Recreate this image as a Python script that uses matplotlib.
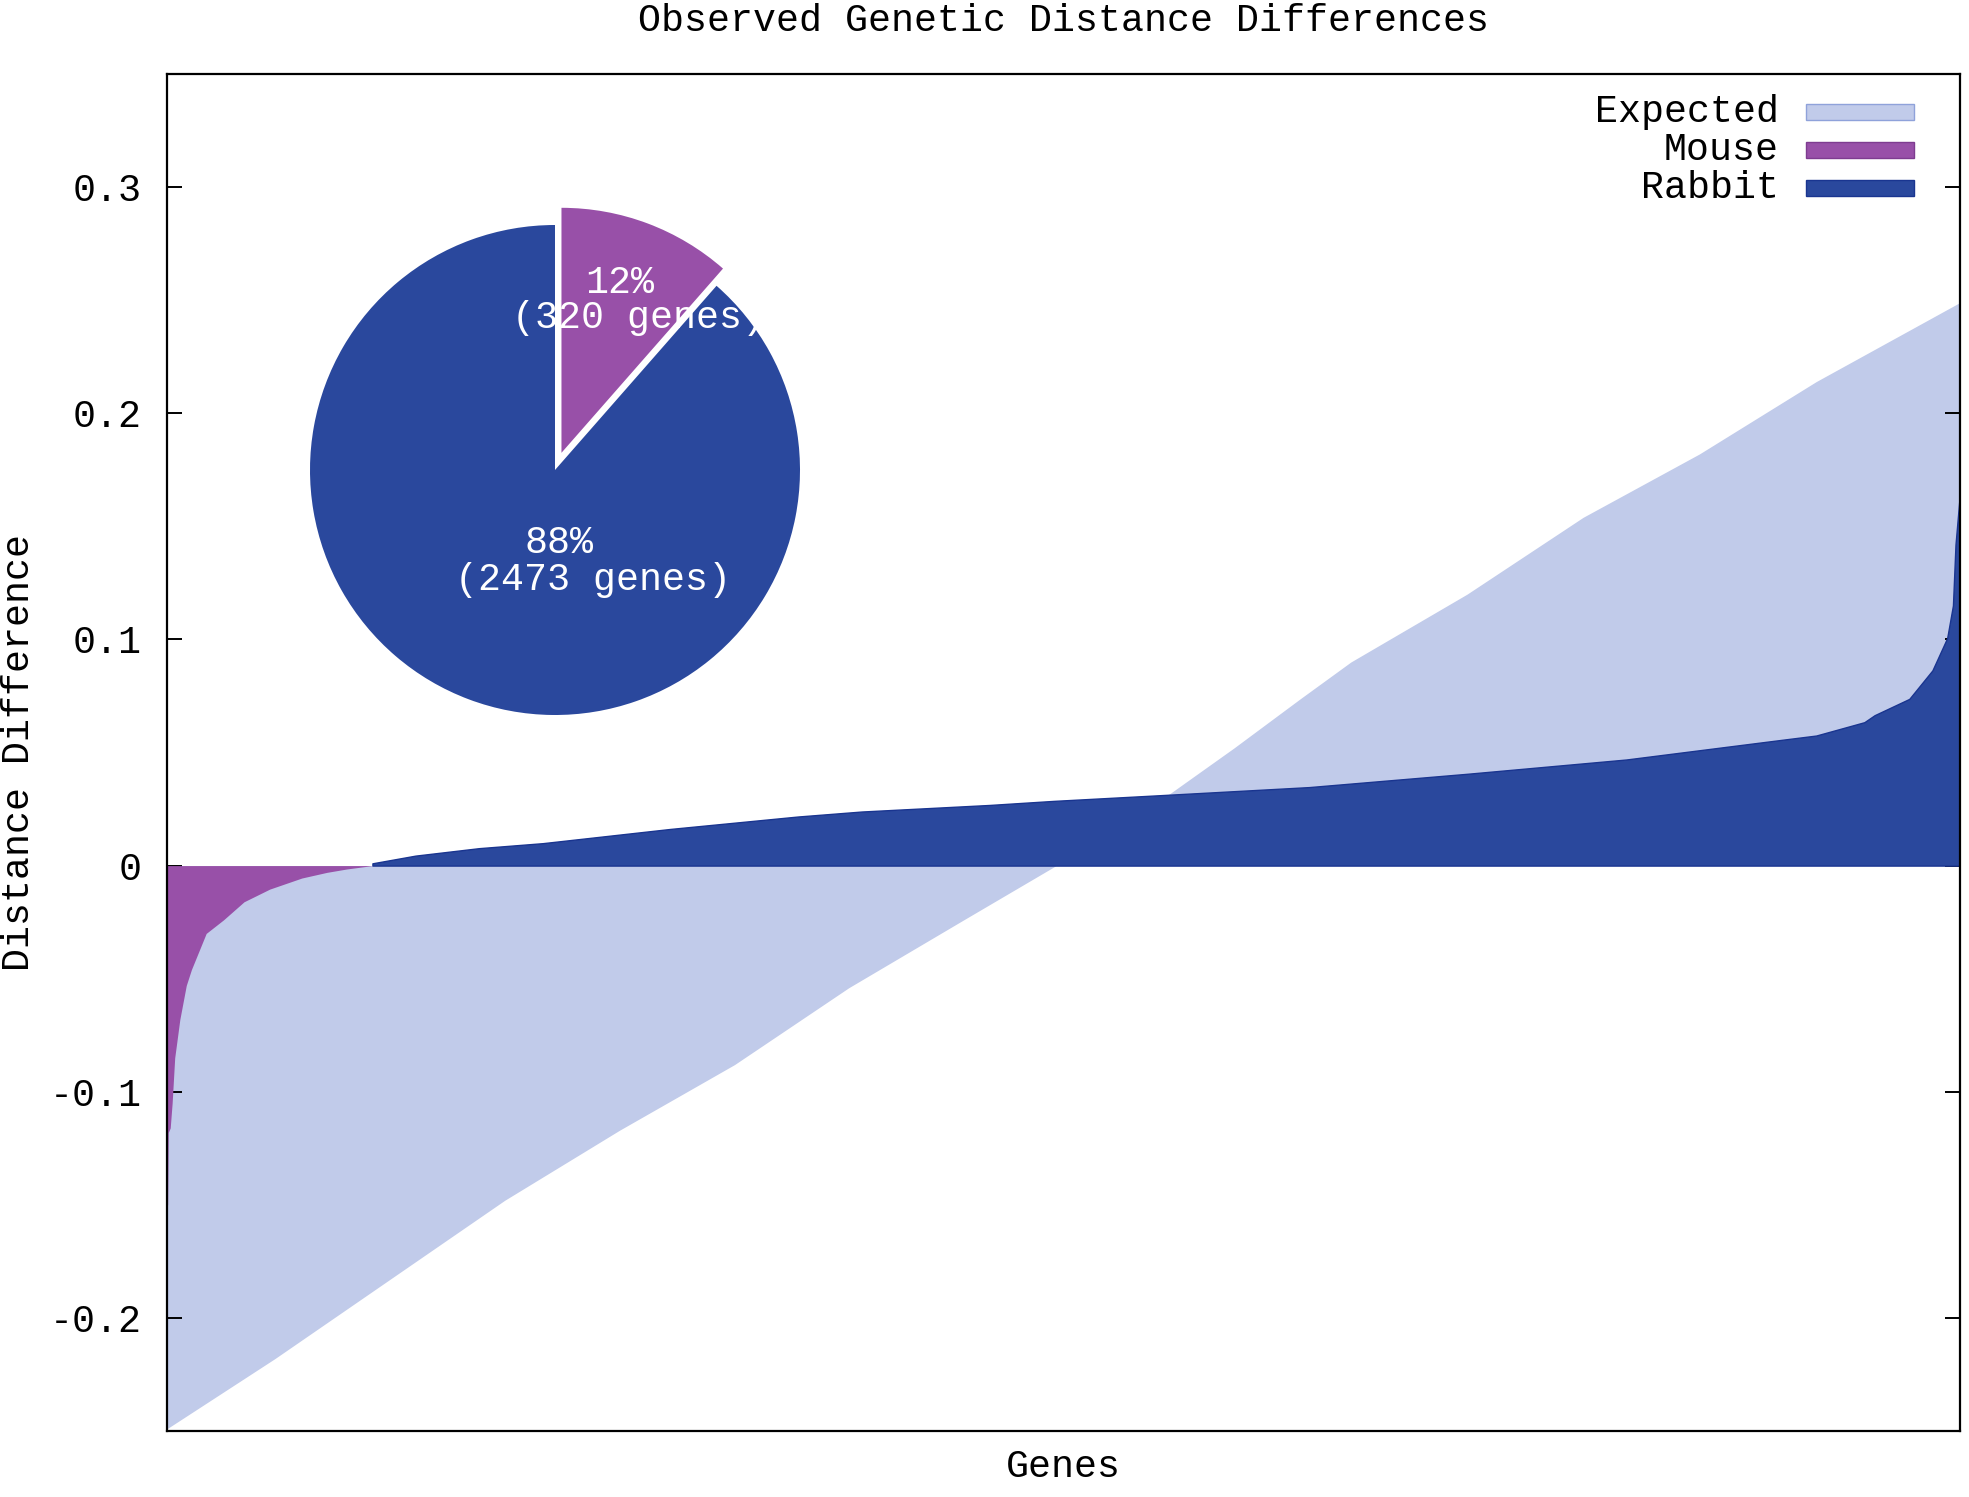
import matplotlib
matplotlib.use("Agg")
import matplotlib.pyplot as plt
from matplotlib.patches import Rectangle

# ---------------- data ----------------
n_genes = 2793

exp_gene = [0, 168, 347, 526, 705, 884, 1062, 1241, 1385, 1563, 1662, 1765, 1844, 2025, 2206, 2387, 2569, 2793]
exp_val = [-0.249, -0.218, -0.183, -0.148, -0.117, -0.088, -0.054, -0.024, 0.0, 0.032,
           0.052, 0.0737, 0.090, 0.120, 0.154, 0.182, 0.214, 0.249]

mouse_gene = [0, 1, 2, 5, 8, 12, 20, 30, 38, 61, 88, 120, 160, 210, 249, 280, 320]
mouse_val = [-0.15, -0.15, -0.118, -0.116, -0.105, -0.085, -0.068, -0.053, -0.046, -0.030,
             -0.024, -0.016, -0.0104, -0.0055, -0.003, -0.0015, 0.0]

rabbit_gene = [320, 387, 486, 585, 784, 983, 1082, 1281, 1381, 1539, 1779, 2026, 2273, 2521,
               2569, 2644, 2660, 2714, 2750, 2773, 2782, 2786, 2793]
rabbit_val = [0.001, 0.0044, 0.0077, 0.0099, 0.0162, 0.0217, 0.0239, 0.0268, 0.0286, 0.031,
              0.0347, 0.0406, 0.0469, 0.0558, 0.0575, 0.0634, 0.0665, 0.0737, 0.0863, 0.1006,
              0.115, 0.142, 0.165]

ytick_vals = [-0.2, -0.1, 0.0, 0.1, 0.2, 0.3]
ytick_labels = ["-0.2", "-0.1", "0", "0.1", "0.2", "0.3"]

series_names = ["Expected", "Mouse", "Rabbit"]
series_colors = ["#C1CBEA", "#9850A8", "#2A489D"]
series_edges = ["#8FA2DA", "#7E3C90", "#1A3590"]

pie_names = ["Mouse", "Rabbit"]
pie_counts = [320, 2473]
pie_pct = [12, 88]

title = "Observed Genetic Distance Differences"
xlabel = "Genes"
ylabel = "Distance Difference"

# ---------------- figure ----------------
FONT = "Liberation Mono"
FS = 27.5
FW = "normal"
W, H = 1969, 1497
fig = plt.figure(figsize=(W / 100, H / 100), dpi=100)
plt.rcParams["font.family"] = [FONT, "DejaVu Sans Mono"]

L, R, T, B = 167, 1960, 74, 1431
ax = fig.add_axes([L / W, 1 - B / H, (R - L) / W, (B - T) / H])

ax.fill_between(exp_gene, exp_val, 0, color=series_colors[0], linewidth=0, zorder=1)
ax.fill_between(mouse_gene, mouse_val, 0, color=series_colors[1], linewidth=0, zorder=2)
ax.fill_between(rabbit_gene, rabbit_val, 0, facecolor=series_colors[2],
                edgecolor=series_edges[2], linewidth=1.0, zorder=3)

ax.set_xlim(0, n_genes)
ax.set_ylim(-0.25, 0.35)
ax.set_xticks([])
ax.set_yticks(ytick_vals)
ax.set_yticklabels(ytick_labels)
ax.tick_params(axis="y", direction="in", length=11, width=1.4, right=True,
               labelsize=FS, pad=18)
for lab in ax.get_yticklabels():
    lab.set_family(FONT)
    lab.set_fontweight(FW)
for s in ax.spines.values():
    s.set_linewidth(1.6)
    s.set_zorder(5)

# titles and axis labels
fig.text((L + R) / 2 / W, 1 - 21 / H, title, ha="center", va="center",
         fontsize=FS, family=FONT, fontweight=FW)
fig.text((L + R) / 2 / W, 1 - 1467 / H, xlabel, ha="center", va="center",
         fontsize=FS, family=FONT, fontweight=FW)
fig.text(19 / W, 1 - ((T + B) / 2) / H, ylabel, ha="center", va="center",
         rotation=90, fontsize=FS, family=FONT, fontweight=FW)

# legend (gnuplot style, text right-aligned, sample boxes on the right)
leg_y = [112, 150, 188]
for name, fc, ec, yy in zip(series_names, series_colors, series_edges, leg_y):
    fig.text(1779 / W, 1 - yy / H, name, ha="right", va="center",
             fontsize=FS, family=FONT, fontweight=FW)
    fig.add_artist(Rectangle((1806 / W, 1 - (yy + 8) / H), 108 / W, 16 / H,
                             transform=fig.transFigure, facecolor=fc,
                             edgecolor=ec, linewidth=1.0))

# inset pie chart
cx, cy, rad = 555, 470, 245
half = 300
pax = fig.add_axes([(cx - half) / W, 1 - (cy + half) / H, 2 * half / W, 2 * half / H])
lim = half / rad
pax.pie(pie_counts, colors=[series_colors[1], series_colors[2]], startangle=90,
        counterclock=False, explode=[0.075, 0.0], radius=1.0,
        wedgeprops=dict(linewidth=0))
pax.set_xlim(-lim, lim)
pax.set_ylim(-lim, lim)
pax.set_aspect("equal")
pax.axis("off")

lbl_pos = [((0.265, 0.763), (0.339, 0.620)), ((0.016, -0.298), (0.155, -0.449))]
for pct, cnt, (p1, p2) in zip(pie_pct, pie_counts, lbl_pos):
    pax.text(p1[0], p1[1], f"{pct}%", ha="center", va="center", color="white",
             fontsize=FS, family=FONT, fontweight=FW)
    pax.text(p2[0], p2[1], f"({cnt} genes)", ha="center", va="center", color="white",
             fontsize=FS, family=FONT, fontweight=FW)

fig.savefig("out.png", dpi=100, facecolor="white")
